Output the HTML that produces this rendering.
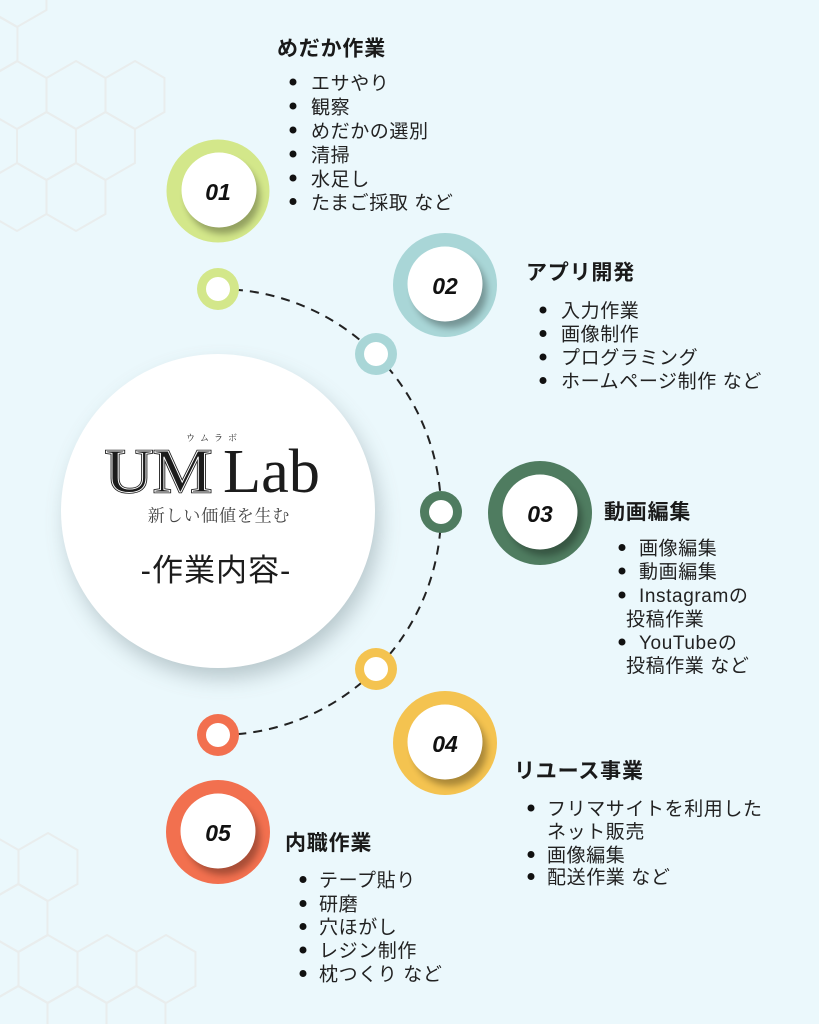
<!DOCTYPE html>
<html>
<head>
<meta charset="utf-8">
<style>
html,body{margin:0;padding:0;background:#ebf8fc;}
svg{display:block;}
.t{font-family:"Liberation Sans","Noto Sans CJK JP",sans-serif;font-weight:700;font-size:21px;letter-spacing:0.8px;fill:#1a1a1a;}
.i{font-family:"Liberation Sans","Noto Sans CJK JP",sans-serif;font-size:19px;letter-spacing:0.6px;fill:#222;}
.n{font-family:"Liberation Sans",sans-serif;font-weight:700;font-style:italic;font-size:23px;fill:#111;}
</style>
</head>
<body>
<svg width="819" height="1024" viewBox="0 0 819 1024" xmlns="http://www.w3.org/2000/svg">
<defs>
  <polygon id="hx" points="0,-34 29.45,-17 29.45,17 0,34 -29.45,17 -29.45,-17"/>
  <filter id="bigsh" x="-40%" y="-40%" width="180%" height="180%"><feGaussianBlur stdDeviation="11"/></filter>
  <filter id="sm" x="-40%" y="-40%" width="180%" height="180%"><feGaussianBlur stdDeviation="3.5"/></filter>
  <clipPath id="c1"><circle cx="218" cy="191" r="51.5"/></clipPath>
  <clipPath id="c2"><circle cx="445" cy="285" r="52"/></clipPath>
  <clipPath id="c3"><circle cx="540" cy="513" r="52"/></clipPath>
  <clipPath id="c4"><circle cx="445" cy="743" r="52"/></clipPath>
  <clipPath id="c5"><circle cx="218" cy="832" r="52"/></clipPath>
</defs>
<rect width="819" height="1024" fill="#ebf8fc"/>

<!-- hexagon background pattern -->
<g fill="none" stroke="#e9eded" stroke-width="2">
  <use href="#hx" x="17" y="-7"/>
  <use href="#hx" x="-12" y="44"/>
  <use href="#hx" x="17" y="95"/>
  <use href="#hx" x="76" y="95"/>
  <use href="#hx" x="135" y="95"/>
  <use href="#hx" x="46.5" y="146"/>
  <use href="#hx" x="105.5" y="146"/>
  <use href="#hx" x="17" y="197"/>
  <use href="#hx" x="76" y="197"/>

  <use href="#hx" x="-11" y="867"/>
  <use href="#hx" x="48" y="867"/>
  <use href="#hx" x="18" y="918"/>
  <use href="#hx" x="-11" y="969"/>
  <use href="#hx" x="48" y="969"/>
  <use href="#hx" x="107" y="969"/>
  <use href="#hx" x="166" y="969"/>
  <use href="#hx" x="18" y="1020"/>
  <use href="#hx" x="77" y="1020"/>
  <use href="#hx" x="136" y="1020"/>
</g>

<!-- dashed arc -->
<path d="M 218 289 A 223 223 0 0 1 218 735" fill="none" stroke="#222" stroke-width="2" stroke-dasharray="9 7"/>

<!-- small rings -->
<circle cx="218" cy="289" r="21" fill="#d3e78a"/><circle cx="218" cy="289" r="12" fill="#fff"/>
<circle cx="376" cy="354" r="21" fill="#a9d6d7"/><circle cx="376" cy="354" r="12" fill="#fff"/>
<circle cx="441" cy="512" r="21" fill="#4f7c60"/><circle cx="441" cy="512" r="12" fill="#fff"/>
<circle cx="376" cy="669" r="21" fill="#f4c350"/><circle cx="376" cy="669" r="12" fill="#fff"/>
<circle cx="218" cy="735" r="21" fill="#f2704f"/><circle cx="218" cy="735" r="12" fill="#fff"/>

<!-- center circle -->
<circle cx="223" cy="522" r="156" fill="#6d8186" opacity="0.42" filter="url(#bigsh)"/>
<circle cx="218" cy="511" r="157" fill="#ffffff"/>

<text x="214" y="441" text-anchor="middle" font-family="'Noto Serif CJK SC','Noto Sans CJK JP',serif" font-size="9" letter-spacing="5" fill="#333">ウムラボ</text>
<!-- UM with inline effect -->
<text x="105" y="492" font-family="'Liberation Serif',serif" font-size="62" textLength="107" lengthAdjust="spacingAndGlyphs" fill="#1c1c1c" stroke="#1c1c1c" stroke-width="2.6">UM</text>
<text x="105" y="492" font-family="'Liberation Serif',serif" font-size="62" textLength="107" lengthAdjust="spacingAndGlyphs" fill="none" stroke="#ffffff" stroke-width="0.9">UM</text>
<text x="223" y="492" font-family="'Liberation Serif',serif" font-size="62" textLength="97" lengthAdjust="spacingAndGlyphs" fill="#1c1c1c">Lab</text>
<text x="219" y="521.5" text-anchor="middle" font-family="'Noto Serif CJK SC','Noto Serif CJK JP',serif" font-size="17" letter-spacing="0.8" fill="#444">新しい価値を生む</text>
<text x="216" y="581" text-anchor="middle" font-family="'Liberation Sans','Noto Sans CJK JP',sans-serif" font-size="31" letter-spacing="1" fill="#1c1c1c">-作業内容-</text>

<!-- numbered circles -->
<g>
  <circle cx="218" cy="191" r="51.5" fill="#d3e78a"/>
  <circle cx="223" cy="197" r="37" fill="#000" opacity="0.3" filter="url(#sm)" clip-path="url(#c1)"/>
  <circle cx="219" cy="190" r="37.5" fill="#fff"/>
  <text class="n" x="218" y="200" text-anchor="middle">01</text>
</g>
<g>
  <circle cx="445" cy="285" r="52" fill="#a9d6d7"/>
  <circle cx="450" cy="291" r="37" fill="#000" opacity="0.3" filter="url(#sm)" clip-path="url(#c2)"/>
  <circle cx="445" cy="284" r="37.5" fill="#fff"/>
  <text class="n" x="445" y="294" text-anchor="middle">02</text>
</g>
<g>
  <circle cx="540" cy="513" r="52" fill="#4f7c60"/>
  <circle cx="545" cy="519" r="37" fill="#000" opacity="0.3" filter="url(#sm)" clip-path="url(#c3)"/>
  <circle cx="540" cy="512" r="37.5" fill="#fff"/>
  <text class="n" x="540" y="522" text-anchor="middle">03</text>
</g>
<g>
  <circle cx="445" cy="743" r="52" fill="#f4c350"/>
  <circle cx="450" cy="749" r="37" fill="#000" opacity="0.3" filter="url(#sm)" clip-path="url(#c4)"/>
  <circle cx="445" cy="742" r="37.5" fill="#fff"/>
  <text class="n" x="445" y="752" text-anchor="middle">04</text>
</g>
<g>
  <circle cx="218" cy="832" r="52" fill="#f2704f"/>
  <circle cx="223" cy="838" r="37" fill="#000" opacity="0.3" filter="url(#sm)" clip-path="url(#c5)"/>
  <circle cx="218" cy="831" r="37.5" fill="#fff"/>
  <text class="n" x="218" y="841" text-anchor="middle">05</text>
</g>

<!-- list 01 -->
<text class="t" x="277" y="55.5">めだか作業</text>
<g fill="#111">
  <circle cx="293" cy="82" r="3.5"/><circle cx="293" cy="106" r="3.5"/><circle cx="293" cy="130" r="3.5"/>
  <circle cx="293" cy="154" r="3.5"/><circle cx="293" cy="178" r="3.5"/><circle cx="293" cy="201.5" r="3.5"/>
</g>
<text class="i" x="311" y="89.5">エサやり</text>
<text class="i" x="311" y="113.5">観察</text>
<text class="i" x="311" y="137.5">めだかの選別</text>
<text class="i" x="311" y="161.5">清掃</text>
<text class="i" x="311" y="185.5">水足し</text>
<text class="i" x="311" y="209">たまご採取 など</text>

<!-- list 02 -->
<text class="t" x="526" y="279.5">アプリ開発</text>
<g fill="#111">
  <circle cx="543" cy="310" r="3.5"/><circle cx="543" cy="333.5" r="3.5"/>
  <circle cx="543" cy="357" r="3.5"/><circle cx="543" cy="380.5" r="3.5"/>
</g>
<text class="i" x="561" y="317.2">入力作業</text>
<text class="i" x="561" y="340.7">画像制作</text>
<text class="i" x="561" y="364.2">プログラミング</text>
<text class="i" x="561" y="387.7">ホームページ制作 など</text>

<!-- list 03 -->
<text class="t" x="604" y="519">動画編集</text>
<g fill="#111">
  <circle cx="622" cy="547.5" r="3.5"/><circle cx="622" cy="571" r="3.5"/>
  <circle cx="622" cy="595" r="3.5"/><circle cx="622" cy="642" r="3.5"/>
</g>
<text class="i" x="639" y="554.5">画像編集</text>
<text class="i" x="639" y="578">動画編集</text>
<text class="i" x="639" y="602">Instagramの</text>
<text class="i" x="626" y="625.5">投稿作業</text>
<text class="i" x="639" y="649">YouTubeの</text>
<text class="i" x="626" y="672">投稿作業 など</text>

<!-- list 04 -->
<text class="t" x="514" y="778">リユース事業</text>
<g fill="#111">
  <circle cx="531" cy="808" r="3.5"/><circle cx="531" cy="854.5" r="3.5"/><circle cx="531" cy="876.5" r="3.5"/>
</g>
<text class="i" x="547" y="815.2">フリマサイトを利用した</text>
<text class="i" x="547" y="838.2">ネット販売</text>
<text class="i" x="547" y="861.7">画像編集</text>
<text class="i" x="547" y="883.7">配送作業 など</text>

<!-- list 05 -->
<text class="t" x="285" y="850">内職作業</text>
<g fill="#111">
  <circle cx="303" cy="879.5" r="3.5"/><circle cx="303" cy="903.5" r="3.5"/><circle cx="303" cy="926.5" r="3.5"/>
  <circle cx="303" cy="950" r="3.5"/><circle cx="303" cy="973.5" r="3.5"/>
</g>
<text class="i" x="319" y="886.7">テープ貼り</text>
<text class="i" x="319" y="910.5">研磨</text>
<text class="i" x="319" y="933.7">穴ほがし</text>
<text class="i" x="319" y="957.2">レジン制作</text>
<text class="i" x="319" y="980.7">枕つくり など</text>
</svg>
</body>
</html>
